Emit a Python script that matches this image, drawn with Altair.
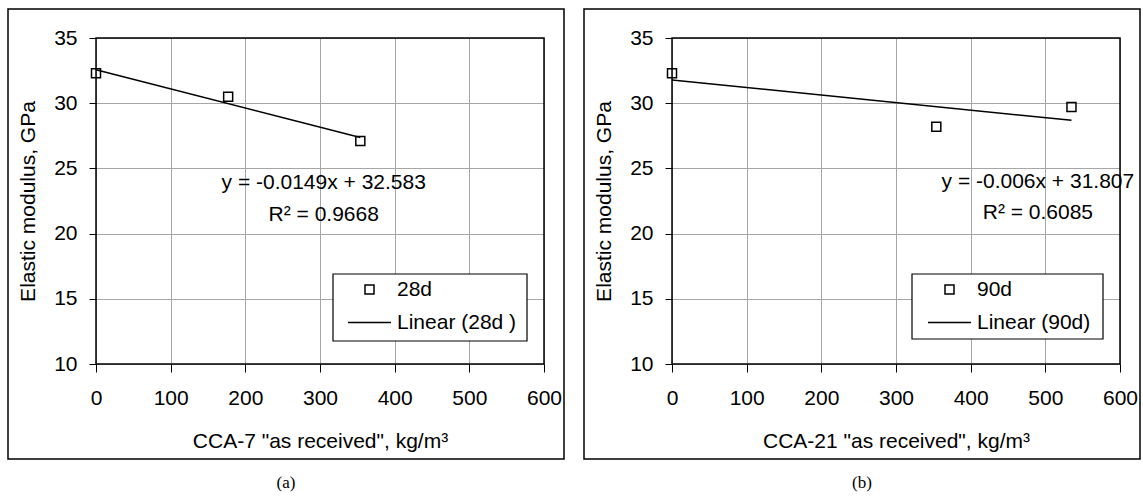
import altair as alt
import pandas as pd

# ---- data ----
cca7_x = [0, 177, 354]          # CCA-7 "as received", kg/m3
e28_y = [32.3, 30.5, 27.1]      # Elastic modulus at 28d, GPa
cca21_x = [0, 354, 535]         # CCA-21 "as received", kg/m3
e90_y = [32.3, 28.2, 29.7]      # Elastic modulus at 90d, GPa

x_ticks = [0, 100, 200, 300, 400, 500, 600]
y_ticks = [10, 15, 20, 25, 30, 35]

eq_a = ["y = -0.0149x + 32.583", "R² = 0.9668"]
eq_a_pos_x = [305, 305]
eq_a_pos_y = [23.88, 21.45]
eq_b = ["y = -0.006x + 31.807", "R² = 0.6085"]
eq_b_pos_x = [490, 490]
eq_b_pos_y = [23.96, 21.58]

FONT = "Liberation Sans"
FS = 21
GRID = "#a6a6a6"
W, H = 448, 326


def panel(xs, ys, label, line_label, x_title, eq_text, eq_x, eq_y, caption,
          lx, ly, box_x, box_x2, box_y, box_y2):
    df = pd.DataFrame({"x": xs, "y": ys, "series": [label] * len(xs)})
    xscale = alt.Scale(domain=[0, 600], nice=False, zero=False)
    yscale = alt.Scale(domain=[10, 35], nice=False, zero=False)
    xaxis = alt.Axis(values=x_ticks, grid=True, gridColor=GRID, gridWidth=1,
                     domain=False, tickColor="black", tickSize=8, tickWidth=1,
                     labelFont=FONT, labelFontSize=FS, labelColor="black",
                     labelPadding=15, labelFlush=False, labelOverlap=False,
                     titleFont=FONT, titleFontSize=FS, titleFontWeight="normal",
                     titleColor="black", titlePadding=22)
    yaxis = alt.Axis(values=y_ticks, grid=True, gridColor=GRID, gridWidth=1,
                     domain=False, tickColor="black", tickSize=7, tickWidth=1,
                     labelFont=FONT, labelFontSize=FS, labelColor="black",
                     labelPadding=12, labelFlush=False, labelOverlap=False,
                     titleFont=FONT, titleFontSize=FS, titleFontWeight="normal",
                     titleColor="black", titlePadding=15)
    X = alt.X("x:Q", scale=xscale, axis=xaxis, title=x_title)
    Y = alt.Y("y:Q", scale=yscale, axis=yaxis, title="Elastic modulus, GPa")

    legend = alt.Legend(orient="none", legendX=lx, legendY=ly, title=None,
                        labelFont=FONT, labelFontSize=FS, labelColor="black",
                        padding=0, rowPadding=0, labelOffset=5,
                        symbolStrokeWidth=1.5, symbolStrokeColor="black")
    dom = [label, line_label]

    base = alt.Chart(df)
    points = base.mark_point(filled=False, color="black", strokeWidth=1.5, opacity=1).encode(
        x=X, y=Y,
        shape=alt.Shape("series:N", scale=alt.Scale(domain=dom, range=["square", "stroke"]), legend=legend),
        size=alt.Size("series:N", scale=alt.Scale(type="ordinal", domain=dom, range=[81, 1849]), legend=legend),
    )
    trend = base.transform_regression("x", "y", method="linear").mark_line(
        color="black", strokeWidth=1.5).encode(x=X, y=Y)

    tdf = pd.DataFrame({"x": eq_x, "y": eq_y, "t": eq_text})
    texts = alt.Chart(tdf).mark_text(font=FONT, fontSize=FS, color="black",
                                     align="center", baseline="middle").encode(
        x=X, y=Y, text="t:N")

    one = pd.DataFrame({"c": [caption]})
    frame = alt.Chart(one).mark_rect(filled=False, stroke="black", strokeWidth=1.5).encode(
        x=alt.value(0), x2=alt.value("width"), y=alt.value(0), y2=alt.value("height"))
    box = alt.Chart(one).mark_rect(filled=False, stroke="black", strokeWidth=1.5).encode(
        x=alt.value(-88), x2=alt.value(W + 20), y=alt.value(-29), y2=alt.value(H + 95))
    legbox = alt.Chart(one).mark_rect(fill="white", stroke="black", strokeWidth=1.2).encode(
        x=alt.value(box_x), x2=alt.value(box_x2), y=alt.value(box_y), y2=alt.value(box_y2))
    cap = alt.Chart(one).mark_text(font="Liberation Serif", fontSize=17, color="black",
                                   align="center", baseline="middle").encode(
        x=alt.value(190), y=alt.value(H + 119), text="c:N")

    return alt.layer(box, trend, frame, legbox, points, texts, cap).properties(width=W, height=H)


pa = panel(cca7_x, e28_y, "28d", "Linear (28d )", 'CCA-7 "as received", kg/m³',
           eq_a, eq_a_pos_x, eq_a_pos_y, "(a)", 251, 241, 237, 431, 236, 303)
pb = panel(cca21_x, e90_y, "90d", "Linear (90d)", 'CCA-21 "as received", kg/m³',
           eq_b, eq_b_pos_x, eq_b_pos_y, "(b)", 255, 241, 240, 431, 236, 301)

chart = alt.hconcat(pa, pb, spacing=128, bounds="flush").resolve_scale(
    x="independent", y="independent", shape="independent", size="independent"
).resolve_legend(shape="independent", size="independent").properties(
    padding={"left": 7, "top": 8, "right": 2, "bottom": 2},
    background="white",
).configure_view(stroke=None)

chart.save("out.html", embed_options={"renderer": "svg", "actions": False})
